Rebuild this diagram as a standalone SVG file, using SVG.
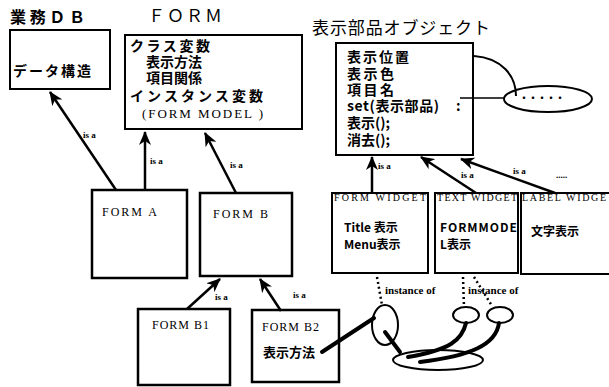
<svg xmlns="http://www.w3.org/2000/svg" width="609" height="387" viewBox="0 0 609 387">
<defs>
<style>
.box{fill:#fff;stroke:#000;stroke-width:2.5}
.tbox{fill:#fff;stroke:#000;stroke-width:2}
.wbox{fill:#fff;stroke:#000;stroke-width:2}
.jp{font-family:"Noto Sans CJK JP","Liberation Serif",sans-serif;font-weight:bold;fill:#000}
.jpn{font-family:"Noto Sans CJK JP","Liberation Serif",sans-serif;font-weight:normal;fill:#000}
.lat{font-family:"Liberation Serif","Noto Sans CJK JP",serif;font-weight:normal;fill:#000}
.isa{font-family:"Liberation Serif",serif;font-weight:bold;font-size:9px;fill:#000}
.inst{font-family:"Liberation Serif",serif;font-weight:bold;font-size:11px;fill:#000}
.arr{fill:none;stroke:#000;stroke-width:2.5;marker-end:url(#ah)}
.dot{fill:none;stroke:#000;stroke-width:2.5;stroke-dasharray:2 3}
.thick{fill:none;stroke:#000;stroke-width:4;stroke-linecap:round}
.el{fill:#fff;stroke:#000;stroke-width:2}
</style>
<marker id="ah" markerUnits="userSpaceOnUse" markerWidth="14" markerHeight="12" refX="13" refY="6" orient="auto">
<path d="M0,0 L14,6 L0,12 L4,6 z" fill="#000"/>
</marker>
</defs>
<rect width="609" height="387" fill="#fff"/>

<g id="gyomu-db">
<text class="jp" x="10" y="23" font-size="16" textLength="75">業務ＤＢ</text>
<rect class="tbox" x="10" y="30" width="100" height="59"/>
<text class="jp" x="13" y="76" font-size="14" textLength="78">データ構造</text>
</g>

<g id="form">
<text class="jpn" x="148" y="22" font-size="17" textLength="74">ＦＯＲＭ</text>
<rect class="tbox" x="125" y="35" width="177" height="94"/>
<text class="jp" font-size="14"><tspan x="130" y="51" textLength="80">クラス変数</tspan><tspan x="146" y="67">表示方法</tspan><tspan x="146" y="83">項目関係</tspan><tspan x="130" y="101" textLength="133">インスタンス変数</tspan><tspan class="lat" x="142" y="118" font-size="13" textLength="121">(FORM MODEL )</tspan></text>
</g>

<g id="form-a">
<rect class="box" x="92" y="190" width="95" height="88"/>
<text class="lat" x="102" y="216" font-size="12" textLength="55">FORM  A</text>
</g>

<g id="form-b">
<rect class="box" x="200" y="193" width="92" height="83"/>
<text class="lat" x="213" y="218" font-size="12" textLength="55">FORM  B</text>
</g>

<g id="form-b1">
<rect class="box" x="138" y="309" width="92" height="76"/>
<text class="lat" x="152" y="329" font-size="12" textLength="57">FORM  B1</text>
</g>

<g id="form-b2">
<rect class="box" x="252" y="310" width="87" height="72"/>
<text class="lat" x="262" y="331" font-size="12" textLength="57">FORM  B2</text>
<text class="jp" x="263" y="357" font-size="13">表示方法</text>
</g>

<g id="hyoji-buhin">
<text class="jpn" x="312" y="34" font-size="17" textLength="178">表示部品オブジェクト</text>
<rect class="tbox" x="336" y="43" width="137" height="112"/>
<text class="jp" font-size="14"><tspan x="347" y="62" textLength="62">表示位置</tspan><tspan x="347" y="79" textLength="47">表示色</tspan><tspan x="347" y="95" textLength="47">項目名</tspan><tspan x="347" y="111" textLength="92">set(表示部品)</tspan><tspan x="456" y="111">:</tspan><tspan x="347" y="128">表示();</tspan><tspan x="347" y="145">消去();</tspan></text>
</g>

<g id="attr-ellipse">
<ellipse class="el" cx="548" cy="99" rx="44" ry="13"/>
<text class="lat" x="518" y="103" font-size="12" font-weight="bold" textLength="48">・・・・・</text>
</g>

<g id="form-widget">
<rect class="wbox" x="332" y="193" width="96" height="80"/>
<text class="lat" x="334" y="201" font-size="10" textLength="92">FORM  WIDGET</text>
<text class="jp" font-size="12"><tspan x="344" y="232">Title 表示</tspan><tspan x="344" y="249">Menu表示</tspan></text>
</g>

<g id="text-widget">
<rect class="wbox" x="435" y="193" width="83" height="80"/>
<text class="lat" x="437" y="201" font-size="10" textLength="80">TEXT  WIDGET</text>
<text class="jp" font-size="12"><tspan x="440" y="232" textLength="77">FORMMODE</tspan><tspan x="440" y="249">L表示</tspan></text>
</g>

<g id="label-widget">
<rect class="wbox" x="521" y="193" width="92" height="81"/>
<text class="lat" x="522" y="201" font-size="10" textLength="84">LABEL  WIDGE</text>
<text class="jp" x="531" y="236" font-size="12">文字表示</text>
</g>

<g id="instances">
<ellipse class="el" cx="385" cy="325" rx="13" ry="20"/>
<ellipse class="el" cx="466" cy="315" rx="13" ry="8"/>
<ellipse class="el" cx="500" cy="315" rx="13" ry="8"/>
<ellipse class="el" cx="438" cy="360" rx="45" ry="10"/>
</g>

<g id="connectors">
<line class="arr" x1="116" y1="190" x2="50" y2="92"/>
<line class="arr" x1="145" y1="190" x2="145" y2="132"/>
<line class="arr" x1="236" y1="193" x2="205" y2="133"/>
<line class="arr" x1="187" y1="309" x2="220" y2="279"/>
<line class="arr" x1="281" y1="311" x2="260" y2="279"/>
<line class="arr" x1="372" y1="193" x2="372" y2="157"/>
<line class="arr" x1="476" y1="193" x2="421" y2="157"/>
<line class="arr" x1="555" y1="193" x2="461" y2="159"/>
<text class="isa" x="83" y="138">is a</text>
<text class="isa" x="150" y="164">is a</text>
<text class="isa" x="230" y="168">is a</text>
<text class="isa" x="215" y="300">is a</text>
<text class="isa" x="293" y="298">is a</text>
<text class="isa" x="378" y="169">is a</text>
<text class="isa" x="461" y="178">is a</text>
<text class="isa" x="513" y="174">is a</text>
<text class="isa" x="556" y="178">.....</text>
<path d="M474,56 C502,58 516,76 516,96" fill="none" stroke="#000" stroke-width="2"/>
<line x1="460" y1="98" x2="504" y2="98" stroke="#000" stroke-width="1.5"/>
<line class="dot" x1="377" y1="277" x2="382" y2="305"/>
<line class="dot" x1="463" y1="277" x2="464" y2="307"/>
<line class="dot" x1="474" y1="277" x2="492" y2="306"/>
<text class="inst" x="385" y="294">instance of</text>
<text class="inst" x="468" y="294">instance of</text>
<path class="thick" d="M322,352 L374,318"/>
<path class="thick" d="M385,332 L400,352"/>
<path class="thick" d="M466,323 C462,340 450,350 408,357"/>
<path class="thick" d="M499,323 C496,345 470,356 420,362"/>
</g>
</svg>
